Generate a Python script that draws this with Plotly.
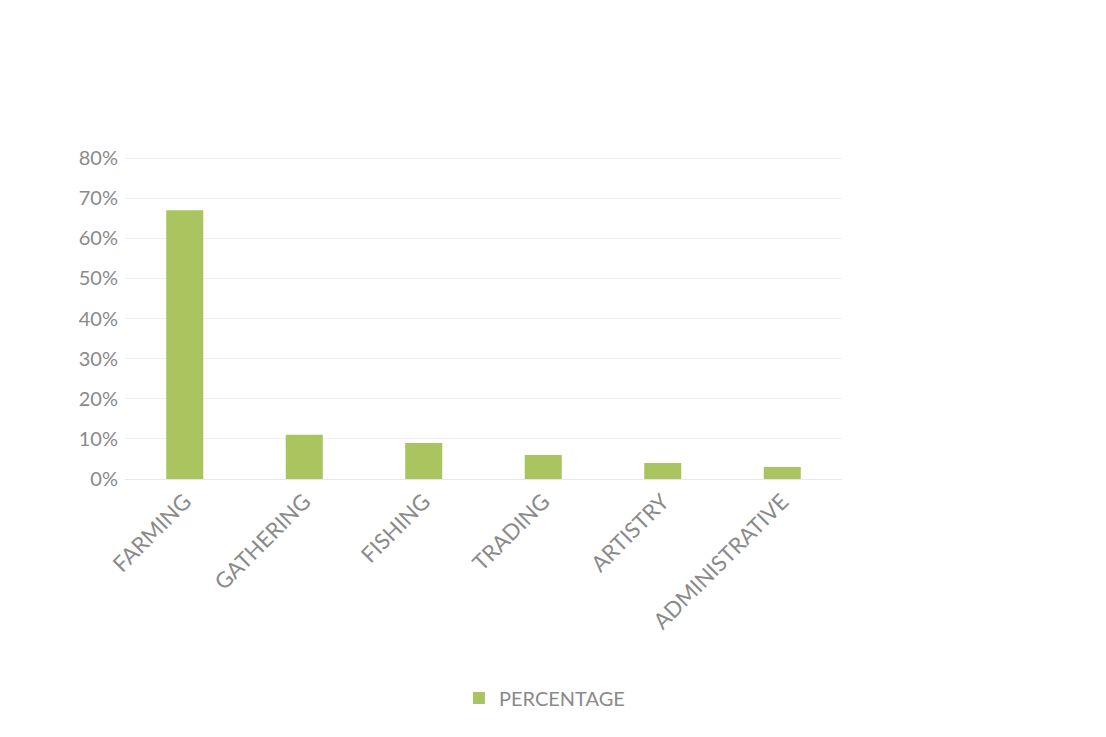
import plotly.graph_objects as go

categories = ["FARMING", "GATHERING", "FISHING", "TRADING", "ARTISTRY", "ADMINISTRATIVE"]
percentages = [0.67, 0.11, 0.09, 0.06, 0.04, 0.03]
y_ticks = [0, 0.1, 0.2, 0.3, 0.4, 0.5, 0.6, 0.7, 0.8]
y_tick_labels = ["0%", "10%", "20%", "30%", "40%", "50%", "60%", "70%", "80%"]

BAR_COLOR = "#aac45f"
TEXT_COLOR = "#8a8a8a"
FONT = "Lato, 'Open Sans', sans-serif"

fig = go.Figure(
    go.Bar(
        x=categories,
        y=percentages,
        name="PERCENTAGE",
        marker=dict(color=BAR_COLOR, line=dict(width=0)),
        showlegend=True,
    )
)

fig.update_layout(
    width=1106,
    height=737,
    paper_bgcolor="white",
    plot_bgcolor="white",
    margin=dict(l=125, r=264, t=154, b=258, autoexpand=False),
    bargap=0.69,
    font=dict(family=FONT, color=TEXT_COLOR, size=16),
    legend=dict(
        orientation="h",
        x=0.585,
        xanchor="center",
        y=0.053,
        yref="container",
        yanchor="middle",
        font=dict(size=20, color=TEXT_COLOR),
        itemwidth=30,
    ),
)

fig.update_xaxes(
    tickangle=-45,
    tickfont=dict(size=22, color=TEXT_COLOR),
    showgrid=False,
    showline=True,
    linecolor="#e8e8e8",
    linewidth=1,
    ticks="",
)

fig.update_yaxes(
    range=[0, 0.81],
    tickvals=y_ticks,
    ticktext=y_tick_labels,
    tickfont=dict(size=20, color=TEXT_COLOR),
    showgrid=True,
    gridcolor="#f0f0f0",
    gridwidth=1,
    zeroline=False,
    showline=False,
    ticks="",
    ticklabelstandoff=6,
)

fig.write_html("out.html")
